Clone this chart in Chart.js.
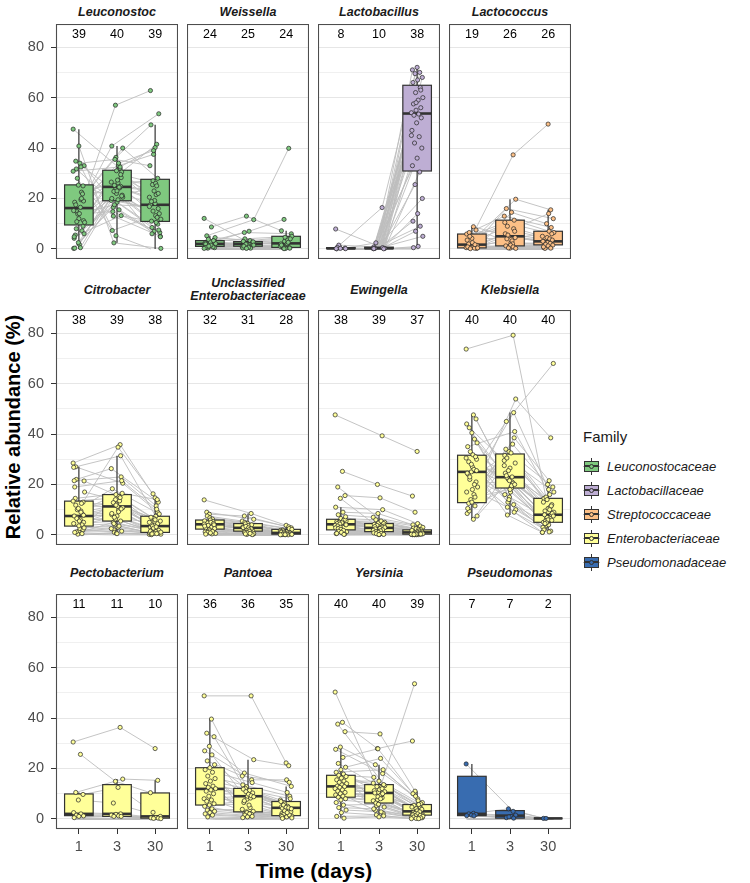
<!DOCTYPE html>
<html lang="en">
<head>
<meta charset="UTF-8">
<title>Relative abundance by genus</title>
<script src="https://cdn.jsdelivr.net/npm/chart.js"></script>
<style>
  body { margin: 0; background: #fff; font-family: "Liberation Sans", Arial, Helvetica, sans-serif; }
  #fig { position: relative; width: 750px; height: 883px; overflow: hidden; }
  #fig canvas { position: absolute; }
  .strip { position: absolute; text-align: center; font-size: 12.5px; font-weight: bold; font-style: italic; line-height: 13.3px; color: #1a1a1a; }
  .ytitle { position: absolute; left: 13px; top: 427px; transform: translate(-50%, -50%) rotate(-90deg); font-size: 20px; font-weight: bold; white-space: nowrap; }
  .xtitle { position: absolute; left: 314px; top: 871px; transform: translate(-50%, -50%); font-size: 21px; font-weight: bold; white-space: nowrap; }
  #legend { position: absolute; left: 583px; top: 428px; }
  #legend .ttl { font-size: 15px; color: #1a1a1a; margin-bottom: 9px; }
  #legend .item { height: 24px; display: flex; align-items: center; }
  #legend .lab { font-size: 13px; font-style: italic; margin-left: 7px; color: #1a1a1a; }
  .key { position: relative; width: 17px; height: 17px; }
  .key .wh { position: absolute; left: 8px; top: 0; width: 1px; height: 17px; background: #333; }
  .key .bx { position: absolute; left: 1px; top: 3px; width: 13px; height: 9px; border: 1px solid #333; }
  .key .ln { position: absolute; left: 0; top: 8px; width: 17px; height: 1px; background: #bbb; }
  .key .md { position: absolute; left: 2px; top: 7px; width: 13px; height: 2px; background: #333; }
  .key .pt { position: absolute; left: 6px; top: 6px; width: 3px; height: 3px; border-radius: 50%; border: 1px solid #333; }
</style>
</head>
<body>
<div id="fig">
  <div class="ytitle">Relative abundance (%)</div>
  <div class="xtitle">Time (days)</div>
  <div id="legend"></div>
</div>
<script>
// genera, in facet order, and their families
const genera = ['Leuconostoc', 'Weissella', 'Lactobacillus', 'Lactococcus',
  'Citrobacter', 'Unclassified Enterobacteriaceae', 'Ewingella', 'Klebsiella',
  'Pectobacterium', 'Pantoea', 'Yersinia', 'Pseudomonas'];
const genusFamily = [0, 0, 1, 2, 3, 3, 3, 3, 3, 3, 3, 4];
const families = ['Leuconostocaceae', 'Lactobacillaceae', 'Streptococcaceae', 'Enterobacteriaceae', 'Pseudomonadaceae'];
const days = ['1', '3', '30'];
const yTicks = [0, 20, 40, 60, 80];

// number of samples where the genus was detected (day 1, 3, 30)
const counts = [[39, 40, 39], [24, 25, 24], [8, 10, 38], [19, 26, 26],
  [38, 39, 38], [32, 31, 28], [38, 39, 37], [40, 40, 40],
  [11, 11, 10], [36, 36, 35], [40, 40, 39], [7, 7, 2]];

// box statistics per day: [lower whisker, q1, median, q3, upper whisker]
const leucBox = [[0, 9.5, 16.2, 25.4, 47.5], [2.4, 19.1, 24.6, 31.2, 40.8], [0, 10.9, 17.5, 27.6, 49.2]];
const weisBox = [[0.2, 1, 2, 3.3, 5.2], [0.2, 1.05, 2, 2.9, 4], [0.1, 0.6, 2.2, 5, 7.2]];
const lactobBox = [[0.05, 0.1, 0.2, 0.5, 1.5], [0.05, 0.1, 0.25, 0.7, 0.8], [0.5, 30.9, 53.7, 64.9, 72]];
const lactocBox = [[0.1, 0.4, 1.7, 5.9, 8.8], [0.2, 1.2, 5, 11.4, 19.7], [0.2, 1.6, 3, 7, 15.5]];
const citBox = [[0.3, 3.5, 7.5, 13.4, 27], [0.5, 5.5, 11.3, 16, 31.4], [0.1, 1, 3.5, 7.4, 14]];
const uncBox = [[0.3, 2.3, 4.2, 5.9, 9], [0.1, 1.5, 2.8, 4.5, 8.5], [0.05, 0.3, 0.8, 2.2, 3.8]];
const ewiBox = [[0.2, 2, 4.2, 6.2, 11], [0.1, 1.3, 2.8, 4.5, 8.5], [0.05, 0.3, 1, 2, 4.5]];
const klebBox = [[6.2, 12.8, 25, 31.6, 47.6], [7.9, 18.6, 22.9, 32.1, 48.5], [1, 5, 8, 14.5, 21.5]];
const pectBox = [[0.5, 1.3, 2, 9.9, 10.5], [1, 1, 2, 13.6, 15.8], [0.1, 0.3, 1, 10.3, 15.3]];
const panBox = [[0.8, 5.5, 11.9, 20.3, 39.6], [0.5, 2.8, 9, 12.1, 23.5], [0.2, 1.3, 4.4, 6.9, 12.9]];
const yerBox = [[0.3, 8.6, 12.9, 17.3, 28.5], [0.8, 6.3, 10.3, 13.6, 21.5], [0.1, 1.5, 3, 5.7, 11]];
const pseuBox = [[1.2, 1.3, 2, 16.9, 21.8], [0.3, 0.3, 1.3, 3.3, 4], [0.2, 0.2, 0.2, 0.2, 0.2]];

// relative abundance (%) per subject (40 subjects), 0 = not detected
const leucD1 = [47.5, 16.5, 34.8, 9, 25.3, 0.2, 19.5, 31.7, 11.2, 40.8, 4.2, 22.5, 14.8, 33, 1.8, 18.5, 7.2, 28, 10.5, 34, 5.5, 21.8, 13.8, 30.8, 0.5, 17.5, 25, 2.5, 15.2, 32.5, 8, 19, 12, 4.8, 20, 10.8, 6, 14, 0.3, 0];
const leucD3 = [31.8, 57, 20.5, 26.2, 13, 24.8, 36.3, 19.2, 33, 2.4, 28.3, 22, 40.8, 15.5, 25.2, 30.5, 18.5, 7.3, 24.2, 35.5, 21.3, 27.3, 14.8, 32.5, 23.5, 40, 19.5, 16.5, 29.5, 5.2, 26.5, 34, 22.8, 13.2, 31, 20, 24.5, 17.5, 21, 23];
const leucD30 = [18, 62.8, 9.8, 27, 5, 13.2, 49.2, 16, 37.5, 0.2, 21.5, 11, 53.6, 7, 20.5, 41.5, 8.5, 14, 19.2, 33, 12.5, 25.5, 6.5, 40.2, 17.5, 28, 15, 4.8, 26, 0, 22, 39, 11.8, 10.5, 18.8, 7.5, 23, 16.8, 25, 6];

const weisD1 = [12.1, 8.7, 5.2, 3.5, 2.5, 2, 1.7, 1, 0.5, 3, 2.3, 1.3, 0.3, 4.5, 2.8, 1.9, 0.8, 3.8, 2.1, 1.5, 0.6, 3.3, 1.1, 0.2, 0, 0, 0, 0, 0, 0, 0, 0, 0, 0, 0, 0, 0, 0, 0, 0];
const weisD3 = [2, 13, 11.6, 7, 6.5, 2.4, 1.4, 0.8, 1.8, 4, 2.2, 1, 0.4, 3.3, 1.6, 2.7, 1.2, 3, 0.3, 1.9, 2.8, 0.6, 1.1, 0, 0.2, 1.5, 0, 0, 0, 0, 0, 0, 0, 0, 0, 0, 0, 0, 0, 0];
const weisD30 = [2.3, 7.2, 39.9, 11.7, 6, 1.8, 1.2, 0.5, 3, 5, 2.1, 0.8, 0.3, 4.6, 1, 3.5, 0.6, 4, 0.2, 2, 2.6, 0.4, 0, 0, 1.5, 0, 0.1, 0, 0, 0, 0, 0, 0, 0, 0, 0, 0, 0, 0, 0];

const lactobD1 = [0, 0, 0, 0.3, 0, 7.9, 0, 0, 0.1, 0, 0, 0, 1.5, 0, 0, 0.05, 0, 0, 0, 0, 0.6, 0, 0, 0, 0, 0, 0, 0.2, 0, 0, 0, 0, 0, 0.1, 0, 0, 0, 0, 0, 0];
const lactobD3 = [16.4, 0, 0, 0, 0, 0.5, 0, 0, 0, 2.4, 0, 0, 0.8, 0, 0, 0, 0, 0.3, 0, 0, 0, 0, 0.2, 0, 0, 0.2, 0, 0, 0, 0, 0.1, 0, 0, 0, 0, 0.1, 0, 0, 0.05, 0];
const lactobD30 = [72, 71, 70, 69.5, 68, 67, 66, 64, 62, 60, 59, 57.5, 56, 55, 54, 53.5, 53, 52, 50, 47, 44.5, 42, 40, 36, 33, 30.5, 25.5, 20, 14, 11, 9, 7, 5, 1, 0.5, 63, 58, 45, 0, 0];

const lactocD1 = [0.5, 8.8, 2, 7.5, 0.6, 5.9, 1, 6.5, 0.2, 4.2, 3.5, 0.3, 5, 1.4, 2.5, 0.8, 1.7, 0.1, 0.4, 0, 0, 0, 0, 0, 0, 0, 0, 0, 0, 0, 0, 0, 0, 0, 0, 0, 0, 0, 0, 0];
const lactocD3 = [37.3, 5, 19.7, 2.5, 16, 8, 1, 13, 14.5, 4, 11.4, 0.6, 10.5, 3.2, 9, 7, 0.3, 6, 2, 5.5, 4.5, 1.5, 1.2, 0.8, 0.4, 0.2, 0, 0, 0, 0, 0, 0, 0, 0, 0, 0, 0, 0, 0, 0];
const lactocD30 = [49.5, 3, 15.5, 2, 12, 14, 0.5, 8.5, 10, 6.5, 7, 1, 6, 4.5, 5, 4, 0.2, 3.5, 2.5, 3, 2.2, 1.8, 1.5, 1.2, 0.8, 0.3, 0, 0, 0, 0, 0, 0, 0, 0, 0, 0, 0, 0, 0, 0];

const citD1 = [28.5, 3.2, 27, 13, 0.8, 26.8, 9.5, 22, 5, 1.5, 21.5, 12.5, 7, 21.4, 0, 19, 4, 10, 17, 2.5, 14.5, 8.2, 0.3, 13.4, 6, 11.8, 2, 10.5, 4.5, 9, 1.2, 7.8, 3.6, 7.5, 0, 6.5, 2.8, 5.5, 1, 0.5];
const citD3 = [35.8, 14, 20.5, 34.8, 5, 31.4, 16, 26.3, 9.8, 2, 23, 12.2, 8, 15.3, 1, 21.5, 7.5, 18.3, 13.5, 4, 16.5, 11.3, 0, 14.8, 6.3, 10.8, 3, 12.8, 5.5, 11.8, 2.5, 9.2, 4.5, 10.3, 0.7, 8.5, 3.5, 7, 1.5, 0.5];
const citD30 = [14.7, 3, 9, 16.3, 1, 7.4, 5, 13, 2.4, 0.3, 11.5, 4.1, 1.8, 6.5, 0.2, 10.2, 2, 8.3, 3.8, 0.8, 14, 3.5, 0, 6, 1.5, 4.5, 0.9, 5.5, 1.3, 7, 0.7, 2.7, 1.1, 3.2, 0.1, 0, 0.6, 5, 0.5, 0.4];

const uncD1 = [13.9, 4.2, 9, 2.3, 8.2, 5.6, 0, 7.5, 3.3, 6.8, 1.2, 6.3, 4.8, 0, 5.9, 2.8, 5.3, 3.8, 0.6, 5, 0, 4.5, 1.9, 4.3, 3, 0, 4, 2.1, 3.5, 0.4, 0, 2.5, 1.6, 0, 1.4, 1, 0, 0.8, 0.3, 0];
const uncD3 = [8.5, 2.2, 6.2, 1.5, 7.5, 4, 0, 5.5, 2.6, 5, 0, 4.6, 3.1, 0.9, 4.4, 1.6, 3.7, 2.9, 0, 3.4, 0.3, 2.8, 0, 2.4, 1.8, 0.5, 2, 1.2, 0, 0.2, 0, 1.4, 1, 0.1, 0.8, 0, 0.6, 0.4, 0, 0];
const uncD30 = [3.8, 0.5, 3.2, 0.3, 2.8, 1.2, 0, 2.5, 0.8, 2.2, 0, 2, 0.9, 0.1, 1.8, 0, 1.6, 0.7, 0, 1.4, 0.05, 0.6, 0, 0.4, 1, 0, 0.8, 0.3, 0, 0.1, 0, 0.4, 0.2, 0, 0.2, 0, 0.1, 0.05, 0, 0];

const ewiD1 = [47.6, 25.2, 19, 15.6, 14.5, 11, 9, 8, 4.2, 6.5, 0.5, 5.8, 3.2, 5.5, 2, 5.2, 0, 5, 1.2, 4.8, 4.5, 0.3, 4.3, 3.8, 0.8, 3.5, 6.2, 3, 2.8, 1.6, 2.5, 7.2, 2.2, 0, 1.8, 1.4, 4, 1, 0.6, 0.2];
const ewiD3 = [39.3, 20, 5, 14.7, 4, 10, 8.5, 7, 2.8, 6, 0.4, 4.7, 2.2, 5.5, 1.4, 4.5, 0.1, 4.2, 0.9, 3.8, 3.5, 0.3, 3.3, 3.1, 0.7, 2.9, 2.6, 2.4, 2, 1.2, 1.8, 1.6, 1.3, 0, 1, 0.8, 0.6, 0.5, 0.2, 0.15];
const ewiD30 = [33.1, 15.4, 1, 9, 0.5, 4.5, 4, 3.5, 0.6, 3, 0.1, 2.7, 0.3, 2.5, 0.2, 2.2, 0, 2, 0.1, 1.8, 1.6, 0.05, 1.4, 1.2, 0.08, 1.1, 0.9, 0.8, 0.7, 0.2, 0.55, 0.5, 0.45, 0, 0.4, 0.35, 0.3, 0.25, 0, 0.15];

const klebD1 = [73.7, 47.6, 12.5, 46, 25, 44, 16, 42.5, 30, 40.5, 8.5, 38, 22, 36.5, 27, 35, 11.5, 33, 19, 31.8, 24, 31, 14, 30.5, 6.2, 29, 21, 28, 17, 26, 9.5, 25.5, 13, 24.5, 20, 23, 7.5, 18, 10.5, 15];
const klebD3 = [79.2, 22, 53.9, 19, 45, 12, 33, 29.5, 18.6, 22.8, 38.5, 15, 31.5, 21, 7.9, 41, 26.5, 24.5, 36, 13, 28.5, 17, 34, 20.5, 25.5, 10, 32.5, 23.5, 48.5, 14, 27.5, 19.5, 30.5, 9, 21.5, 16, 23, 11, 20, 18];
const klebD30 = [10.5, 5, 38.5, 3.5, 68, 4, 14.5, 8, 6.5, 9, 21.5, 2.5, 12, 7, 1, 16, 9.5, 8.5, 20, 3, 11, 5.5, 19, 6, 13, 1.5, 15, 7.5, 18, 2, 11.5, 4.8, 17, 1.2, 8, 5.8, 14, 1, 10, 4.5];

const pectD1 = [30.5, 25.6, 10.5, 9.7, 7.5, 2.5, 2, 1.5, 1.2, 1, 0.5, 0, 0, 0, 0, 0, 0, 0, 0, 0, 0, 0, 0, 0, 0, 0, 0, 0, 0, 0, 0, 0, 0, 0, 0, 0, 0, 0, 0, 0];
const pectD3 = [36.3, 14.9, 15.8, 12.5, 6.3, 2, 1.8, 1.5, 1.2, 1, 1, 0, 0, 0, 0, 0, 0, 0, 0, 0, 0, 0, 0, 0, 0, 0, 0, 0, 0, 0, 0, 0, 0, 0, 0, 0, 0, 0, 0, 0];
const pectD30 = [27.9, 10.4, 15.3, 2.6, 1, 0.5, 0.4, 0.3, 0.2, 0.1, 0, 0, 0, 0, 0, 0, 0, 0, 0, 0, 0, 0, 0, 0, 0, 0, 0, 0, 0, 0, 0, 0, 0, 0, 0, 0, 0, 0, 0, 0];

const panD1 = [48.8, 39.6, 34, 32.6, 28.8, 27, 25.4, 23, 21.5, 20.3, 19.5, 18.5, 17, 16, 15, 14, 13, 12.5, 12, 11.5, 11, 10, 9, 8, 7.5, 7, 6, 5.5, 5, 4, 3.5, 3, 2.5, 2, 1.5, 0.8, 0, 0, 0, 0];
const panD3 = [48.8, 12.8, 23.5, 9.5, 18.2, 15.5, 7.8, 17, 11.3, 2.2, 14.4, 9, 13.5, 4.5, 12.1, 10.3, 1.2, 11.8, 8.3, 10.8, 3, 9.8, 6.5, 9.2, 2.8, 8.8, 5.5, 7.2, 1.8, 2.5, 3.8, 2, 1.5, 1, 0.8, 0.5, 0, 0, 0, 0];
const panD30 = [22.2, 4.8, 21.1, 6.5, 12.9, 15.5, 2.2, 14.5, 6, 1.1, 10.5, 4.2, 9, 1.8, 7.5, 5, 0.6, 8, 3.6, 6.9, 1.3, 5.5, 2.8, 4.6, 1.4, 4.4, 2, 4, 0.8, 1, 1.6, 3.2, 0.4, 2.5, 0.2, 0, 0, 0, 0, 0];

const yerD1 = [50.3, 38.3, 37.6, 34.6, 28.5, 27.6, 24.4, 22, 20.5, 19.5, 18.5, 17.8, 17.3, 16.8, 16.2, 15.5, 15, 14.5, 14, 13.5, 13, 12.8, 12.5, 12, 11.5, 11, 10.5, 10, 9.5, 9, 8.6, 8, 7.5, 6.5, 5.5, 4.5, 3.5, 2.5, 1, 0.3];
const yerD3 = [8.4, 27.9, 13.2, 33.7, 21.5, 18, 27.8, 14.2, 24, 6.8, 19.5, 10.5, 16.5, 12.4, 5.3, 13.6, 15, 11.2, 9.6, 12.8, 4.7, 11.6, 10.3, 12, 7.6, 10.8, 9.2, 3.4, 10, 8.8, 7.2, 8, 6.3, 2.2, 5.8, 4, 2.8, 1.6, 1.2, 0.8];
const yerD30 = [3, 30.9, 5, 11, 6.5, 8, 10, 4.4, 9, 1.5, 7.2, 2.6, 6, 4.1, 0.9, 5.7, 5.4, 3.5, 2.4, 4.7, 0.8, 53.6, 3.8, 3.2, 1.8, 2.8, 2.2, 0.5, 2, 1.6, 1.4, 1.2, 1, 0.3, 0.7, 0.4, 0.2, 0.1, 0.1, 0];

const pseuD1 = [21.8, 2.2, 2, 1.8, 1.5, 1.3, 1.2, 0, 0, 0, 0, 0, 0, 0, 0, 0, 0, 0, 0, 0, 0, 0, 0, 0, 0, 0, 0, 0, 0, 0, 0, 0, 0, 0, 0, 0, 0, 0, 0, 0];
const pseuD3 = [3, 4, 1.5, 1, 0.5, 0.3, 0.8, 0, 0, 0, 0, 0, 0, 0, 0, 0, 0, 0, 0, 0, 0, 0, 0, 0, 0, 0, 0, 0, 0, 0, 0, 0, 0, 0, 0, 0, 0, 0, 0, 0];
const pseuD30 = [0, 0.2, 0, 0.2, 0, 0, 0, 0, 0, 0, 0, 0, 0, 0, 0, 0, 0, 0, 0, 0, 0, 0, 0, 0, 0, 0, 0, 0, 0, 0, 0, 0, 0, 0, 0, 0, 0, 0, 0, 0];

const panelValues = [
  [leucD1, leucD3, leucD30], [weisD1, weisD3, weisD30], [lactobD1, lactobD3, lactobD30], [lactocD1, lactocD3, lactocD30],
  [citD1, citD3, citD30], [uncD1, uncD3, uncD30], [ewiD1, ewiD3, ewiD30], [klebD1, klebD3, klebD30],
  [pectD1, pectD3, pectD30], [panD1, panD3, panD30], [yerD1, yerD3, yerD30], [pseuD1, pseuD3, pseuD30]
];
const panelBoxes = [leucBox, weisBox, lactobBox, lactocBox, citBox, uncBox, ewiBox, klebBox, pectBox, panBox, yerBox, pseuBox];

// styling
const familyColors = ['#7fc97f', '#beaed4', '#fdc086', '#ffff99', '#386cb0'];
const colLeft = [56, 187, 318, 449];
const rowTop = [24, 310, 594];
const panelW = 122, panelH = 235;
const stripY = [13, 290.5, 573.5];
const fontFam = '"Liberation Sans", Arial, Helvetica, sans-serif';

Chart.defaults.font.family = fontFam;

// fixed horizontal spread for the points of each subject
function jitter(i, d) {
  return ((((i * 37 + d * 17) % 23) / 22) - 0.5) * 0.3;
}

const boxPlugin = {
  id: 'boxes',
  beforeDatasetDraw(chart, args) {
    const ds = chart.data.datasets[args.index];
    if (!ds.isPoints) return;
    const ctx = chart.ctx, xs = chart.scales.x, ys = chart.scales.y;
    ctx.save();
    ds.boxStats.forEach((b, d) => {
      const cx = xs.getPixelForValue(d + 1);
      const half = xs.getPixelForValue(d + 1.375) - cx;
      const [lo, q1, med, q3, hi] = b.map(v => ys.getPixelForValue(v));
      ctx.strokeStyle = '#333333';
      ctx.lineWidth = 1.2;
      ctx.beginPath();
      ctx.moveTo(cx, hi); ctx.lineTo(cx, q3);
      ctx.moveTo(cx, q1); ctx.lineTo(cx, lo);
      ctx.stroke();
      ctx.fillStyle = ds.boxColor;
      ctx.fillRect(cx - half, q3, 2 * half, q1 - q3);
      ctx.strokeRect(cx - half, q3, 2 * half, q1 - q3);
      ctx.lineWidth = 2.6;
      ctx.beginPath();
      ctx.moveTo(cx - half, med); ctx.lineTo(cx + half, med);
      ctx.stroke();
    });
    ctx.restore();
  }
};

const framePlugin = {
  id: 'frame',
  afterDraw(chart) {
    const ctx = chart.ctx, a = chart.chartArea;
    const xs = chart.scales.x, ys = chart.scales.y;
    ctx.save();
    ctx.strokeStyle = '#4d4d4d';
    ctx.lineWidth = 1.1;
    ctx.strokeRect(a.left + 0.5, a.top + 0.5, a.right - a.left - 1, a.bottom - a.top - 1);
    ctx.fillStyle = '#000';
    ctx.font = '12.5px ' + fontFam;
    ctx.textAlign = 'center';
    ctx.textBaseline = 'middle';
    chart.options.plugins.frame.counts.forEach((n, d) => {
      ctx.fillText(String(n), xs.getPixelForValue(d + 1), ys.getPixelForValue(85));
    });
    ctx.restore();
  }
};

const fig = document.getElementById('fig');

genera.forEach((name, k) => {
  const row = Math.floor(k / 4), col = k % 4;
  const axL = col === 0 ? colLeft[0] : 0;
  const axB = row === 2 ? 40 : 0;
  const color = familyColors[genusFamily[k]];
  const values = panelValues[k];

  // facet title
  const strip = document.createElement('div');
  strip.className = 'strip';
  strip.style.left = colLeft[col] + 'px';
  strip.style.width = panelW + 'px';
  const parts = name.split(' ');
  strip.innerHTML = parts.join('<br>');
  strip.style.top = (stripY[row] - parts.length * 13.3 / 2) + 'px';
  fig.appendChild(strip);

  const canvas = document.createElement('canvas');
  canvas.width = panelW + axL;
  canvas.height = panelH + axB;
  canvas.style.left = (colLeft[col] - axL) + 'px';
  canvas.style.top = rowTop[row] + 'px';
  fig.appendChild(canvas);

  const datasets = [];
  const pts = [];
  values.forEach((arr, d) => arr.forEach((v, i) => {
    if (v > 0) pts.push({ x: d + 1 + jitter(i, d), y: v });
  }));
  datasets.push({
    isPoints: true,
    boxStats: panelBoxes[k],
    boxColor: color,
    data: pts,
    order: 0,
    pointRadius: 2.1,
    pointBackgroundColor: color,
    pointBorderColor: 'rgba(40,40,40,0.9)',
    pointBorderWidth: 0.8
  });
  for (let i = 0; i < values[0].length; i++) {
    datasets.push({
      data: values.map((arr, d) => ({ x: d + 1 + jitter(i, d), y: arr[i] })),
      order: 1,
      showLine: true,
      borderColor: 'rgba(190,190,190,0.9)',
      borderWidth: 1,
      pointRadius: 0
    });
  }

  new Chart(canvas, {
    type: 'scatter',
    data: { datasets },
    plugins: [boxPlugin, framePlugin],
    options: {
      responsive: false,
      animation: false,
      events: [],
      layout: { padding: 0, autoPadding: false },
      plugins: {
        legend: { display: false },
        tooltip: { enabled: false },
        frame: { counts: counts[k] }
      },
      scales: {
        x: {
          type: 'linear', min: 0.4, max: 3.6,
          afterBuildTicks: s => { s.ticks = [1, 2, 3].map(v => ({ value: v })); },
          afterFit: s => { s.height = axB; s.paddingLeft = 0; s.paddingRight = 0; },
          ticks: {
            display: row === 2, autoSkip: false, maxRotation: 0, padding: 4,
            color: '#4d4d4d', font: { size: 14.5 },
            callback: v => days[v - 1]
          },
          grid: { drawOnChartArea: false, drawTicks: row === 2, tickLength: 5, tickColor: '#333333' },
          border: { display: false }
        },
        y: {
          type: 'linear', min: -4, max: 89.2,
          afterBuildTicks: s => { s.ticks = [0, 10, 20, 30, 40, 50, 60, 70, 80].map(v => ({ value: v })); },
          afterFit: s => { s.width = axL; s.paddingTop = 0; s.paddingBottom = 0; },
          ticks: {
            display: col === 0, autoSkip: false, padding: 7,
            color: '#4d4d4d', font: { size: 14.5 },
            callback: v => yTicks.includes(v) ? String(v) : ''
          },
          grid: {
            color: c => (c.tick && c.tick.value % 20 === 0) ? '#e6e6e6' : '#f0f0f0',
            lineWidth: 1,
            drawTicks: col === 0,
            tickLength: 5,
            tickColor: c => (c.tick && c.tick.value % 20 === 0) ? '#333333' : 'rgba(0,0,0,0)'
          },
          border: { display: false }
        }
      }
    }
  });
});

// legend
const legend = document.getElementById('legend');
legend.innerHTML = '<div class="ttl">Family</div>' + families.map((f, i) =>
  '<div class="item"><div class="key"><div class="ln"></div><div class="wh"></div>' +
  '<div class="bx" style="background:' + familyColors[i] + '"></div><div class="md"></div>' +
  '<div class="pt" style="background:' + familyColors[i] + '"></div></div>' +
  '<span class="lab">' + f + '</span></div>').join('');
</script>
</body>
</html>
